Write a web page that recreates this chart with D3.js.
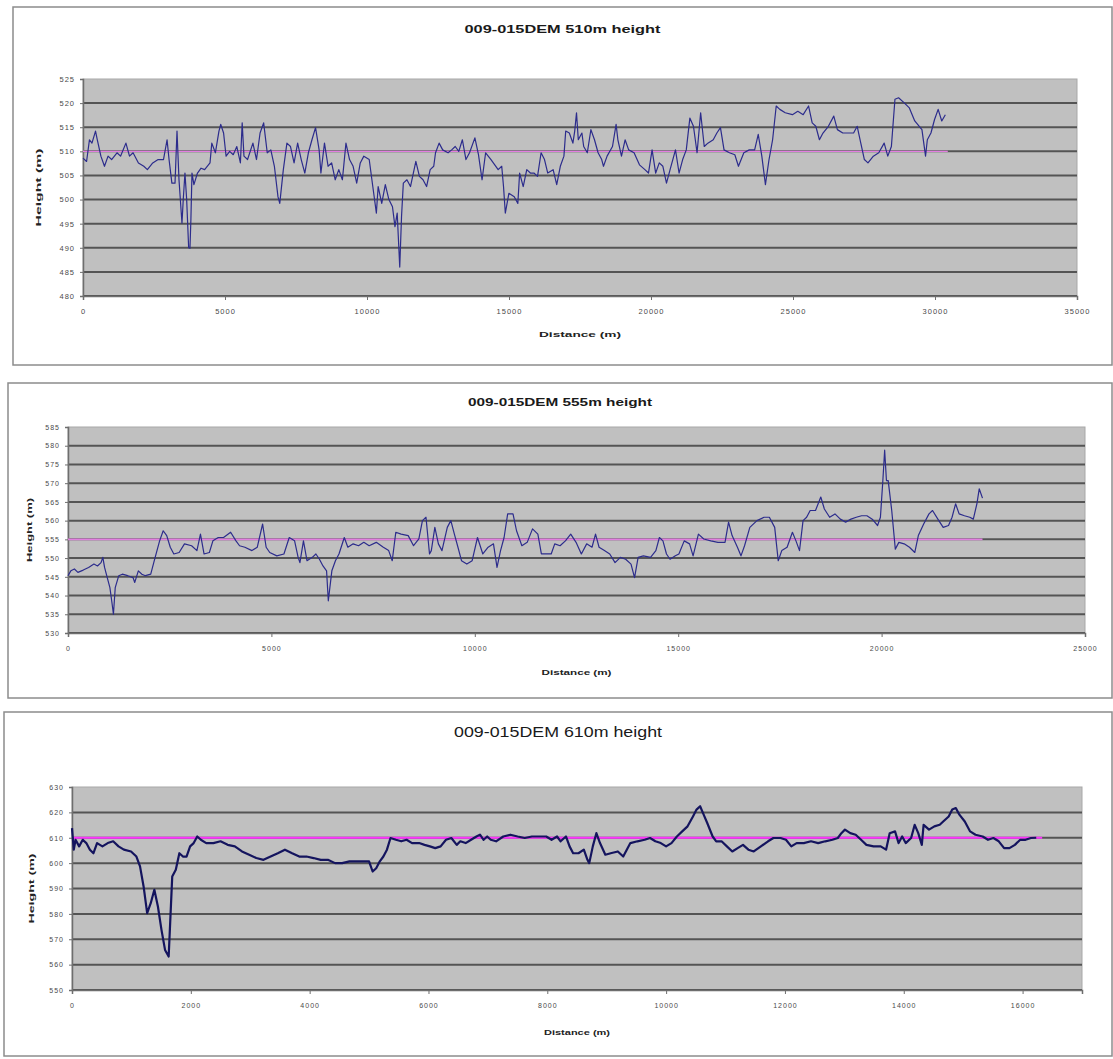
<!DOCTYPE html>
<html>
<head>
<meta charset="utf-8">
<script src="https://cdn.jsdelivr.net/npm/d3@7"></script>
<style>
  html, body { margin: 0; padding: 0; background: #ffffff; }
  svg { display: block; font-family: "Liberation Sans", Arial, sans-serif; }
</style>
</head>
<body>
<svg id="chart" width="1113" height="1059"></svg>
<script>
// ---------------------------------------------------------------------------
// Data — [distance (m), height (m)]
// ---------------------------------------------------------------------------
const profile510 = [
  [0,508.6],[126,507.9],[227,512.4],[315,511.7],[441,514.2],[504,512.4],[630,509.0],[756,506.9],
  [882,509.0],[1008,508.3],[1197,509.7],[1322,509.0],[1511,511.7],[1637,509.0],[1763,509.7],[1952,507.6],
  [2141,506.9],[2267,506.2],[2456,507.6],[2645,508.3],[2834,508.3],[2960,512.4],[3030,508.3],[3130,503.4],
  [3240,503.4],[3310,514.2],[3380,504.1],[3485,495.1],[3530,500.0],[3590,505.5],[3650,500.0],[3720,490.0],
  [3766,489.9],[3800,496.0],[3837,505.5],[3905,503.1],[4031,505.5],[4157,506.5],[4283,506.2],[4472,507.6],
  [4535,511.7],[4661,509.7],[4787,514.2],[4850,515.6],[4950,513.8],[5038,509.0],[5164,510.0],[5290,509.3],
  [5416,511.0],[5542,507.6],[5605,515.9],[5668,509.0],[5794,508.3],[5983,511.7],[6109,508.3],[6235,513.8],
  [6361,515.9],[6487,509.7],[6613,510.3],[6739,506.9],[6865,500.6],[6928,499.2],[7054,506.2],[7180,511.7],
  [7306,511.0],[7432,507.6],[7558,511.7],[7684,508.3],[7810,505.5],[7936,509.7],[8062,512.4],[8188,514.9],
  [8314,510.3],[8377,505.5],[8503,511.7],[8629,506.9],[8755,507.6],[8881,504.1],[9007,506.2],[9133,504.1],
  [9259,511.7],[9385,508.3],[9511,506.9],[9637,503.4],[9763,507.6],[9889,509.0],[10078,508.3],[10204,502.7],
  [10330,497.2],[10393,502.7],[10519,499.2],[10645,503.1],[10771,500.0],[10897,498.5],[10985,494.4],[11063,497.2],
  [11153,486.0],[11216,496.5],[11279,503.4],[11405,504.1],[11531,502.7],[11720,507.9],[11846,504.8],[11972,504.1],
  [12098,502.7],[12224,506.2],[12350,506.9],[12413,509.7],[12539,511.7],[12665,510.3],[12854,509.7],[12980,510.3],
  [13106,511.0],[13232,510.0],[13358,512.4],[13484,508.3],[13610,509.7],[13799,512.8],[13925,509.3],[14051,504.1],
  [14177,509.7],[14366,508.3],[14618,506.2],[14744,506.9],[14807,502.7],[14870,497.2],[14996,501.3],[15185,500.6],
  [15311,499.2],[15374,505.5],[15500,502.7],[15626,506.2],[15752,505.5],[15878,505.5],[16004,504.8],[16130,509.7],
  [16250,508.3],[16364,505.5],[16554,506.2],[16680,503.1],[16807,506.9],[16934,509.0],[16997,514.2],[17124,513.8],
  [17250,511.7],[17314,514.2],[17377,518.0],[17440,512.4],[17567,513.8],[17630,511.0],[17757,509.7],[17884,514.5],
  [18010,512.4],[18137,509.7],[18264,508.3],[18327,506.9],[18454,509.0],[18644,511.0],[18771,515.6],[18834,512.4],
  [18961,509.0],[19088,512.4],[19214,510.3],[19404,509.7],[19594,507.2],[19785,506.2],[19911,505.5],[20038,510.3],
  [20165,505.5],[20291,507.6],[20418,506.9],[20545,503.4],[20672,506.2],[20862,510.3],[20988,505.5],[21115,508.3],
  [21242,510.3],[21368,516.9],[21495,515.2],[21622,509.7],[21748,518.0],[21875,511.0],[22002,511.7],[22192,512.4],
  [22319,513.8],[22445,514.9],[22572,510.3],[22762,509.7],[22952,509.3],[23079,506.9],[23269,509.7],[23459,510.3],
  [23649,510.3],[23776,513.5],[23902,509.0],[24029,503.1],[24156,508.3],[24282,512.4],[24409,519.4],[24536,518.7],
  [24726,518.0],[24979,517.6],[25169,518.3],[25359,517.6],[25549,519.4],[25676,515.9],[25803,515.2],[25930,512.4],
  [26056,513.8],[26246,515.2],[26436,517.3],[26563,514.5],[26753,513.8],[26943,513.8],[27133,513.8],[27260,515.2],
  [27387,511.7],[27513,508.3],[27640,507.6],[27830,509.0],[28020,509.7],[28210,511.7],[28337,509.0],[28464,511.0],
  [28590,520.8],[28717,521.1],[28907,520.1],[29097,519.0],[29287,516.3],[29540,514.5],[29667,509.0],[29730,512.4],
  [29857,513.8],[29984,516.6],[30111,518.7],[30238,516.3],[30364,517.6]
];

const profile555 = [
  [0,545.3],[70,546.6],[157,547.1],[244,546.2],[375,546.8],[506,547.5],[637,548.4],[725,547.9],
  [812,548.8],[856,550.2],[899,547.5],[986,543.9],[1030,542.1],[1074,538.6],[1117,535.0],[1161,542.1],
  [1248,545.3],[1336,545.7],[1467,545.3],[1598,544.8],[1641,543.5],[1729,546.6],[1816,545.7],[1903,545.3],
  [2034,545.7],[2121,549.3],[2252,554.6],[2340,557.3],[2427,556.0],[2514,552.9],[2602,551.1],[2732,551.5],
  [2863,553.8],[3038,553.3],[3169,552.0],[3256,556.4],[3344,551.1],[3475,551.5],[3562,554.6],[3693,555.5],
  [3824,555.5],[3998,556.9],[4129,554.6],[4217,553.3],[4348,552.9],[4522,552.0],[4653,552.9],[4784,559.1],
  [4871,552.9],[4959,551.5],[5133,550.6],[5308,551.1],[5439,555.5],[5570,554.6],[5657,550.2],[5701,548.8],
  [5788,554.6],[5875,549.3],[6006,550.2],[6094,551.1],[6181,549.7],[6268,547.9],[6356,546.6],[6399,538.6],
  [6486,546.6],[6574,549.3],[6661,551.1],[6792,555.5],[6879,552.9],[7010,553.8],[7141,553.3],[7272,554.2],
  [7403,553.3],[7578,554.2],[7752,552.9],[7883,552.0],[7970,549.3],[8058,556.9],[8189,556.4],[8363,556.0],
  [8494,553.3],[8625,555.1],[8713,560.0],[8800,560.9],[8887,551.1],[8931,552.0],[9018,558.2],[9105,553.8],
  [9193,552.0],[9324,558.2],[9411,560.0],[9498,556.4],[9586,552.9],[9673,549.3],[9804,548.4],[9935,549.3],
  [10066,555.5],[10197,551.1],[10328,552.9],[10459,553.8],[10546,547.5],[10633,552.0],[10720,555.5],[10808,561.8],
  [10939,561.8],[11026,557.3],[11157,553.3],[11288,554.2],[11419,557.8],[11550,556.4],[11637,551.1],[11768,551.1],
  [11878,551.1],[11965,553.8],[12096,553.3],[12227,554.6],[12358,556.4],[12489,554.2],[12619,551.1],[12750,553.8],
  [12881,552.9],[12968,556.4],[13055,552.9],[13186,552.0],[13317,551.1],[13448,548.8],[13579,550.2],[13709,549.7],
  [13840,548.4],[13927,544.8],[14015,550.2],[14145,550.6],[14320,550.2],[14451,552.0],[14538,555.5],[14625,554.6],
  [14712,551.1],[14799,549.7],[14930,550.6],[15017,551.1],[15148,554.6],[15279,553.8],[15366,550.6],[15497,556.4],
  [15628,555.1],[15802,554.6],[15977,554.2],[16151,554.2],[16238,559.6],[16325,556.0],[16456,552.9],[16543,550.6],
  [16631,553.3],[16761,558.2],[16936,560.0],[17110,560.9],[17241,560.9],[17372,558.2],[17459,549.3],[17546,552.0],
  [17677,552.9],[17808,556.9],[17895,554.6],[17982,552.0],[18069,560.0],[18157,560.9],[18244,562.7],[18375,562.7],
  [18505,566.3],[18593,563.1],[18723,560.9],[18854,561.8],[18985,560.4],[19116,559.6],[19247,560.4],[19377,560.9],
  [19508,561.3],[19639,561.3],[19770,560.4],[19901,558.7],[19971,560.9],[20031,570.7],[20075,578.8],[20119,570.7],
  [20162,570.7],[20249,562.7],[20337,552.4],[20424,554.2],[20555,553.8],[20685,552.9],[20816,551.5],[20903,556.0],
  [21034,559.1],[21165,561.8],[21252,562.7],[21383,560.4],[21514,558.2],[21645,558.7],[21732,560.9],[21819,564.5],
  [21906,561.8],[22037,561.3],[22168,560.9],[22255,560.4],[22342,564.5],[22400,568.5],[22480,566.0]
];

const profile610 = [
  [0,613.8],[30,605.3],[60,609.2],[120,606.6],[181,609.2],[241,607.9],[301,605.3],[361,603.9],
  [422,607.9],[512,606.6],[602,607.9],[693,608.6],[783,606.6],[873,605.3],[994,604.6],[1084,602.6],
  [1145,598.7],[1205,590.8],[1265,580.3],[1325,584.2],[1386,589.5],[1446,582.9],[1506,573.7],[1566,565.8],
  [1627,563.2],[1657,578.9],[1687,594.7],[1747,597.4],[1807,603.9],[1867,602.6],[1928,602.6],[1988,606.6],
  [2048,607.9],[2108,610.5],[2169,609.2],[2259,607.9],[2379,607.9],[2500,608.6],[2620,607.2],[2741,606.6],
  [2861,604.6],[2982,603.3],[3102,602.0],[3223,601.3],[3343,602.6],[3464,603.9],[3584,605.3],[3705,603.9],
  [3825,602.6],[3946,602.6],[4066,602.0],[4187,601.3],[4307,601.3],[4428,600.0],[4548,600.0],[4669,600.7],
  [4789,600.7],[4910,600.7],[5000,600.7],[5060,596.7],[5120,598.0],[5181,600.7],[5241,602.6],[5301,605.3],
  [5361,609.9],[5452,609.2],[5542,608.6],[5632,609.2],[5723,607.9],[5843,607.9],[5934,607.2],[6024,606.6],
  [6114,605.9],[6205,606.6],[6295,609.2],[6385,609.9],[6476,607.2],[6536,608.6],[6626,607.9],[6717,609.2],
  [6807,610.5],[6867,611.2],[6928,609.2],[6988,610.5],[7048,609.2],[7138,608.6],[7259,610.5],[7379,611.2],
  [7500,610.5],[7620,609.9],[7741,610.5],[7861,610.5],[7982,610.5],[8072,609.2],[8164,610.5],[8224,608.6],
  [8314,610.5],[8375,606.6],[8435,603.9],[8525,603.9],[8615,605.3],[8676,601.3],[8706,600.0],[8766,606.6],
  [8826,611.8],[8887,607.9],[8977,603.3],[9067,603.9],[9187,604.6],[9278,602.6],[9338,605.3],[9398,607.9],
  [9518,608.6],[9639,609.2],[9729,609.9],[9819,608.6],[9910,607.9],[10000,606.6],[10090,607.9],[10181,610.5],
  [10271,612.5],[10361,614.5],[10452,618.4],[10512,621.1],[10572,622.4],[10632,619.1],[10692,615.8],[10783,610.5],
  [10843,608.6],[10933,608.6],[11023,606.6],[11114,604.6],[11204,605.9],[11294,607.2],[11385,605.3],[11475,604.6],
  [11595,606.6],[11716,608.6],[11806,609.9],[11926,609.9],[12017,609.2],[12107,606.6],[12197,607.9],[12318,607.9],
  [12438,608.6],[12559,607.9],[12679,608.6],[12799,609.2],[12890,609.9],[12950,611.8],[13010,613.2],[13100,611.8],
  [13191,611.2],[13281,609.2],[13371,607.2],[13492,606.6],[13612,606.6],[13702,605.3],[13763,611.8],[13853,612.5],
  [13913,607.9],[13973,610.5],[14033,607.9],[14124,609.9],[14184,615.1],[14244,611.8],[14304,607.2],[14334,615.1],
  [14425,613.2],[14515,614.5],[14605,615.1],[14696,617.1],[14756,618.4],[14816,621.1],[14876,621.7],[14936,619.1],
  [15027,616.4],[15117,612.5],[15207,611.2],[15328,610.5],[15418,609.2],[15508,609.9],[15599,608.6],[15689,605.9],
  [15779,605.9],[15870,607.2],[15960,609.2],[16050,609.2],[16140,609.9],[16230,610.0]
];

// reference heights and how far each reference line runs
const refHeights = [510, 555, 610];
const refEnds    = [30450, 22480, 16330];

// axis ticks
const xTicks510 = [0, 5000, 10000, 15000, 20000, 25000, 30000, 35000];
const yTicks510 = [480, 485, 490, 495, 500, 505, 510, 515, 520, 525];
const xTicks555 = [0, 5000, 10000, 15000, 20000, 25000];
const yTicks555 = [530, 535, 540, 545, 550, 555, 560, 565, 570, 575, 580, 585];
const xTicks610 = [0, 2000, 4000, 6000, 8000, 10000, 12000, 14000, 16000];
const yTicks610 = [550, 560, 570, 580, 590, 600, 610, 620, 630];

const titles = ['009-015DEM 510m height', '009-015DEM 555m height', '009-015DEM 610m height'];

// ---------------------------------------------------------------------------
// Layout (one panel per profile)
// ---------------------------------------------------------------------------
const panels = [
  {
    data: profile510, ref: refHeights[0], refEnd: refEnds[0], title: titles[0],
    xTicks: xTicks510, yTicks: yTicks510, xMax: 35000,
    box: { x: 13, y: 7, w: 1099, h: 358 },
    plot: { left: 83, top: 79, right: 1077, bottom: 296 },
    titleY: 33, titleSize: 10.5, titleLen: 196, titleWeight: 'bold',
    xLabY: 337, xLabLen: 82, yLabX: 41, yLabLen: 78,
    tickSize: 7.5, lineW: 1.2, lineC: '#2c2c8c', refW: 1.3, refC: '#e27fe0'
  },
  {
    data: profile555, ref: refHeights[1], refEnd: refEnds[1], title: titles[1],
    xTicks: xTicks555, yTicks: yTicks555, xMax: 25000,
    box: { x: 8, y: 383, w: 1104, h: 315 },
    plot: { left: 68, top: 427, right: 1085, bottom: 633 },
    titleY: 406, titleSize: 10.5, titleLen: 184, titleWeight: 'bold',
    xLabY: 675, xLabLen: 70, yLabX: 32, yLabLen: 64,
    tickSize: 7, lineW: 1.2, lineC: '#2c2c8c', refW: 1.6, refC: '#e27fe0'
  },
  {
    data: profile610, ref: refHeights[2], refEnd: refEnds[2], title: titles[2],
    xTicks: xTicks610, yTicks: yTicks610, xMax: 17000,
    box: { x: 4, y: 712, w: 1108, h: 344 },
    plot: { left: 72, top: 787, right: 1082, bottom: 990 },
    titleY: 737, titleSize: 14, titleLen: 208, titleWeight: 'normal',
    xLabY: 1035, xLabLen: 66, yLabX: 34, yLabLen: 70,
    tickSize: 7, lineW: 2.2, lineC: '#14145e', refW: 2.2, refC: '#ff33ff'
  }
];

const svg = d3.select('#chart');

panels.forEach(p => {
  const g = svg.append('g');
  const P = p.plot;

  // outer frame
  g.append('rect')
    .attr('x', p.box.x).attr('y', p.box.y)
    .attr('width', p.box.w).attr('height', p.box.h)
    .attr('fill', '#ffffff')
    .attr('stroke', '#8c8c8c')
    .attr('stroke-width', 1.5);

  const x = d3.scaleLinear().domain([0, p.xMax]).range([P.left, P.right]);
  const y = d3.scaleLinear().domain(d3.extent(p.yTicks)).range([P.bottom, P.top]);

  // plot area
  g.append('rect')
    .attr('x', P.left).attr('y', P.top)
    .attr('width', P.right - P.left).attr('height', P.bottom - P.top)
    .attr('fill', '#c0c0c0')
    .attr('stroke', '#a8a8a8')
    .attr('stroke-width', 1);

  // horizontal gridlines (not on the top edge)
  g.append('g')
    .selectAll('line')
    .data(p.yTicks.slice(0, -1))
    .join('line')
    .attr('x1', P.left).attr('x2', P.right)
    .attr('y1', d => y(d)).attr('y2', d => y(d))
    .attr('stroke', '#545454')
    .attr('stroke-width', 2);

  // axes
  const xAxis = g.append('g')
    .attr('transform', `translate(0,${P.bottom})`)
    .call(d3.axisBottom(x).tickValues(p.xTicks).tickSize(4).tickPadding(9).tickFormat(d => String(d)));
  const yAxis = g.append('g')
    .attr('transform', `translate(${P.left},0)`)
    .call(d3.axisLeft(y).tickValues(p.yTicks).tickSize(3).tickPadding(5).tickFormat(d => String(d)));

  [xAxis, yAxis].forEach(ax => {
    ax.select('.domain').attr('stroke', '#6e6e6e').attr('stroke-width', 1.5);
    ax.selectAll('.tick line').attr('stroke', '#6e6e6e');
    ax.selectAll('.tick text')
      .attr('fill', '#4a4a4a')
      .style('font-size', p.tickSize + 'px')
      .style('letter-spacing', '1px');
  });

  // reference height line
  g.append('line')
    .attr('x1', x(0)).attr('x2', x(p.refEnd))
    .attr('y1', y(p.ref)).attr('y2', y(p.ref))
    .attr('stroke', p.refC)
    .attr('stroke-width', p.refW);

  // profile
  const line = d3.line().x(d => x(d[0])).y(d => y(d[1]));
  g.append('path')
    .datum(p.data)
    .attr('d', line)
    .attr('fill', 'none')
    .attr('stroke', p.lineC)
    .attr('stroke-width', p.lineW)
    .attr('stroke-linejoin', 'round');

  // title
  g.append('text')
    .attr('x', p.box.x + p.box.w / 2)
    .attr('y', p.titleY)
    .attr('text-anchor', 'middle')
    .attr('font-size', p.titleSize)
    .attr('font-weight', p.titleWeight)
    .attr('fill', '#1a1a1a')
    .attr('textLength', p.titleLen)
    .attr('lengthAdjust', 'spacingAndGlyphs')
    .text(p.title);

  // axis titles
  g.append('text')
    .attr('x', (P.left + P.right) / 2)
    .attr('y', p.xLabY)
    .attr('text-anchor', 'middle')
    .attr('font-size', 8)
    .attr('font-weight', 'bold')
    .attr('fill', '#222')
    .attr('textLength', p.xLabLen)
    .attr('lengthAdjust', 'spacingAndGlyphs')
    .text('Distance (m)');

  g.append('text')
    .attr('transform', `translate(${p.yLabX},${(P.top + P.bottom) / 2}) rotate(-90)`)
    .attr('text-anchor', 'middle')
    .attr('font-size', 8)
    .attr('font-weight', 'bold')
    .attr('fill', '#222')
    .attr('textLength', p.yLabLen)
    .attr('lengthAdjust', 'spacingAndGlyphs')
    .text('Height (m)');
});
</script>
</body>
</html>
